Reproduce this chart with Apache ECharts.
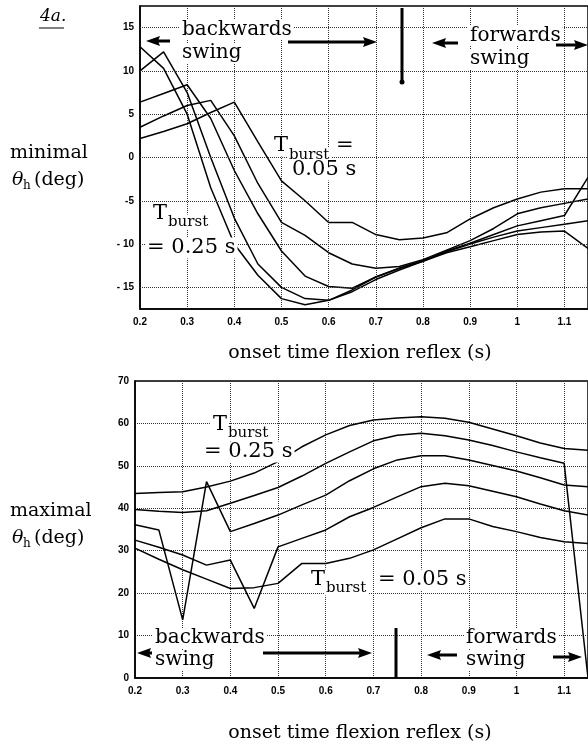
<!DOCTYPE html>
<html>
<head>
<meta charset="utf-8">
<script src="https://cdn.jsdelivr.net/npm/echarts@6/dist/echarts.min.js"></script>
<style>
    html,body{margin:0;padding:0;background:#fff;}
    #main{width:588px;height:749px;}
</style>
</head>
<body>
<div id="main"></div>
<script>
// onset time of flexion reflex (s)
var onsetTimes = [0.2,0.25,0.3,0.35,0.4,0.45,0.5,0.55,0.6,0.65,0.7,0.75,0.8,0.85,0.9,0.95,1.0,1.05,1.1,1.15];

// minimal theta_h (deg), one list per Tburst
var minT025 = [12.8,10.3,5.0,-3.5,-10.0,-13.6,-16.3,-17.0,-16.5,-15.5,-14.1,-13.0,-12.0,-11.0,-10.3,-9.6,-8.9,-8.6,-8.5,-10.5];
var minT020 = [10.0,12.2,7.5,0.0,-7.0,-12.3,-15.0,-16.3,-16.5,-15.3,-13.8,-12.8,-11.9,-10.9,-10.0,-9.2,-8.5,-8.1,-7.7,-7.3];
var minT015 = [6.4,7.4,8.4,4.5,-1.5,-6.5,-10.8,-13.7,-14.9,-15.1,-13.8,-12.8,-12.0,-10.8,-9.9,-8.9,-7.9,-7.3,-6.7,-2.3];
var minT010 = [3.5,4.8,6.0,6.6,2.5,-3.0,-7.5,-9.0,-11.0,-12.3,-12.8,-12.6,-11.8,-10.7,-9.6,-8.2,-6.5,-5.8,-5.3,-4.8];
var minT005 = [2.2,3.0,3.9,5.2,6.4,1.8,-2.7,-5.0,-7.5,-7.5,-8.9,-9.5,-9.3,-8.7,-7.1,-5.8,-4.8,-4.0,-3.6,-3.6];

// maximal theta_h (deg)
var maxT025 = [43.5,43.7,43.9,45.0,46.4,48.3,51.0,54.5,57.3,59.5,60.8,61.3,61.6,61.2,60.3,58.7,57.1,55.4,54.1,53.7];
var maxT020 = [39.7,39.3,39.0,39.4,41.2,43.0,44.9,47.6,50.6,53.3,55.9,57.2,57.7,57.1,56.1,54.8,53.3,51.9,50.6,0];
var maxT015 = [36.1,34.9,13.7,46.3,34.5,36.4,38.4,40.8,43.1,46.5,49.3,51.4,52.4,52.4,51.4,50.1,48.8,47.2,45.5,45.1];
var maxT010 = [32.5,30.8,29.0,26.6,27.8,16.4,30.9,32.9,34.9,38.0,40.2,42.7,45.1,45.9,45.3,44.0,42.7,41.0,39.4,38.4];
var maxT005 = [30.6,28.0,25.5,23.3,21.1,21.3,22.3,27.0,27.0,28.2,30.2,32.8,35.4,37.5,37.5,35.7,34.5,33.1,32.1,31.7];

// tick values
var minTicks = [-15,-10,-5,0,5,10,15];

var serif = '"DejaVu Serif", "Liberation Serif", serif';
var myChart = echarts.init(document.getElementById('main'));

function pairs(ys){
    return onsetTimes.map(function(x,i){ return [x, ys[i]]; });
}

function lineSeries(ys, gi, extra){
    var s = {
        type:'line',
        xAxisIndex:gi,
        yAxisIndex:gi,
        data:pairs(ys),
        symbol:'none',
        silent:true,
        lineStyle:{color:'#000',width:1.5}
    };
    if(extra){ for(var k in extra){ s[k]=extra[k]; } }
    return s;
}

function xAxisCfg(gi){
    return {
        gridIndex:gi,
        type:'value',
        min:0.2,
        max:1.15,
        interval:0.1,
        axisLine:{show:true,onZero:false,lineStyle:{color:'#000',width:1.5}},
        axisTick:{show:false},
        axisLabel:{
            showMaxLabel:false,
            color:'#000',
            fontSize:10,
            fontWeight:'bold',
            fontFamily:'"Liberation Sans", Arial, sans-serif',
            margin:8,
            formatter:function(v){ return String(+v.toFixed(2)); }
        },
        splitLine:{show:true,lineStyle:{type:'dotted',color:'#333',width:1}}
    };
}

var gridDots = {
    silent:true,
    symbol:'none',
    label:{show:false},
    lineStyle:{type:'dotted',color:'#333',width:1},
    data:minTicks.map(function(v){ return {yAxis:v}; })
};

// annotation helpers
function txt(s, x, y, size, extra){
    var st = {text:s, x:x, y:y, font:size+'px '+serif, fill:'#000', verticalAlign:'middle', align:'left'};
    if(extra){ for(var k in extra){ st[k]=extra[k]; } }
    return {type:'text', z:100, style:st};
}
function arrow(x1, x2, y){
    var d = x2 > x1 ? 1 : -1;
    var hx = x2 - d*12;
    return [
        {type:'line', z:100, shape:{x1:x1,y1:y,x2:hx,y2:y}, style:{stroke:'#000',lineWidth:3}},
        {type:'polygon', z:100, shape:{points:[[x2,y],[hx-d*2,y-5],[hx,y],[hx-d*2,y+5]]}, style:{fill:'#000'}}
    ];
}
function bar(x, y1, y2){
    return {type:'line', z:100, shape:{x1:x,y1:y1,x2:x,y2:y2}, style:{stroke:'#000',lineWidth:3}};
}

var whiteBg = {backgroundColor:'#fff', padding:[0,2]};

var graphics = [
    txt('4a.', 40, 17, 17, {font:'italic 17px '+serif}),
    {type:'line', shape:{x1:39,y1:28,x2:64,y2:28}, style:{stroke:'#000',lineWidth:1}},
    txt('minimal', 10, 153, 19),
    txt('\u03b8', 12, 180, 19, {font:'italic 19px '+serif}),
    txt('h', 23, 186, 12),
    txt('(deg)', 34, 180, 19),
    txt('maximal', 10, 511, 19),
    txt('\u03b8', 12, 538, 19, {font:'italic 19px '+serif}),
    txt('h', 23, 544, 12),
    txt('(deg)', 34, 538, 19),
    txt('onset time flexion reflex (s)', 360, 353, 19, {align:'center'}),
    txt('onset time flexion reflex (s)', 360, 733, 19, {align:'center'}),

    // top panel
    txt('backwards', 180, 30, 20, whiteBg),
    txt('swing', 180, 53, 20, whiteBg),
    txt('forwards', 468, 36, 20, whiteBg),
    txt('swing', 468, 59, 20, whiteBg),
    txt('T', 272, 146, 21, whiteBg),
    txt('burst', 287, 155, 15, whiteBg),
    txt('=', 334, 146, 21, whiteBg),
    txt('0.05 s', 290, 170, 21, whiteBg),
    txt('T', 151, 214, 21, whiteBg),
    txt('burst', 166, 222, 15, whiteBg),
    txt('= 0.25 s', 145, 248, 21, whiteBg),
    bar(402, 8, 82),
    {type:'circle', z:100, shape:{cx:402,cy:82,r:2.5}, style:{fill:'#000'}},

    // bottom panel
    txt('T', 211, 425, 21, whiteBg),
    txt('burst', 226, 433, 15, whiteBg),
    txt('= 0.25 s', 202, 452, 21, whiteBg),
    txt('T', 309, 580, 21, whiteBg),
    txt('burst', 324, 588, 15, whiteBg),
    txt('= 0.05 s', 376, 580, 21, whiteBg),
    txt('backwards', 153, 638, 20, whiteBg),
    txt('swing', 153, 660, 20, whiteBg),
    txt('forwards', 464, 638, 20, whiteBg),
    txt('swing', 464, 660, 20, whiteBg),
    bar(396, 628, 678)
];
graphics = graphics
    .concat(arrow(170, 146, 41))
    .concat(arrow(288, 377, 42))
    .concat(arrow(458, 432, 43))
    .concat(arrow(556, 588, 45))
    .concat(arrow(152, 137, 653))
    .concat(arrow(263, 372, 653))
    .concat(arrow(457, 427, 655))
    .concat(arrow(553, 582, 657));

var option = {
    animation:false,
    backgroundColor:'#fff',
    grid:[
        {left:140, top:6, width:452, height:303, show:true, borderColor:'#000', borderWidth:1.5, backgroundColor:'transparent'},
        {left:135, top:381, width:456, height:297, show:true, borderColor:'#000', borderWidth:1.5, backgroundColor:'transparent'}
    ],
    xAxis:[xAxisCfg(0), xAxisCfg(1)],
    yAxis:[
        {
            gridIndex:0,
            type:'value',
            min:-17.5,
            max:17.5,
            interval:2.5,
            axisLine:{show:true,lineStyle:{color:'#000',width:1.5}},
            axisTick:{show:false},
            splitLine:{show:false},
            axisLabel:{
                color:'#000',
                fontSize:10,
                fontWeight:'bold',
                fontFamily:'"Liberation Sans", Arial, sans-serif',
                margin:6,
                formatter:function(v){
                    if(Math.abs(v%5) > 1e-6){ return ''; }
                    if(v === -5){ return '-5'; }
                    return v < 0 ? '- ' + (-v) : String(v);
                }
            }
        },
        {
            gridIndex:1,
            type:'value',
            min:0,
            max:70,
            interval:10,
            axisLine:{show:true,lineStyle:{color:'#000',width:1.5}},
            axisTick:{show:false},
            splitLine:{show:true,lineStyle:{type:'dotted',color:'#333',width:1}},
            axisLabel:{
                color:'#000',
                fontSize:10,
                fontWeight:'bold',
                fontFamily:'"Liberation Sans", Arial, sans-serif',
                margin:6
            }
        }
    ],
    series:[
        lineSeries(minT025, 0, {markLine:gridDots}),
        lineSeries(minT020, 0),
        lineSeries(minT015, 0),
        lineSeries(minT010, 0),
        lineSeries(minT005, 0),
        lineSeries(maxT025, 1),
        lineSeries(maxT020, 1),
        lineSeries(maxT015, 1),
        lineSeries(maxT010, 1),
        lineSeries(maxT005, 1)
    ],
    graphic:graphics
};
myChart.setOption(option);
</script>
</body>
</html>
